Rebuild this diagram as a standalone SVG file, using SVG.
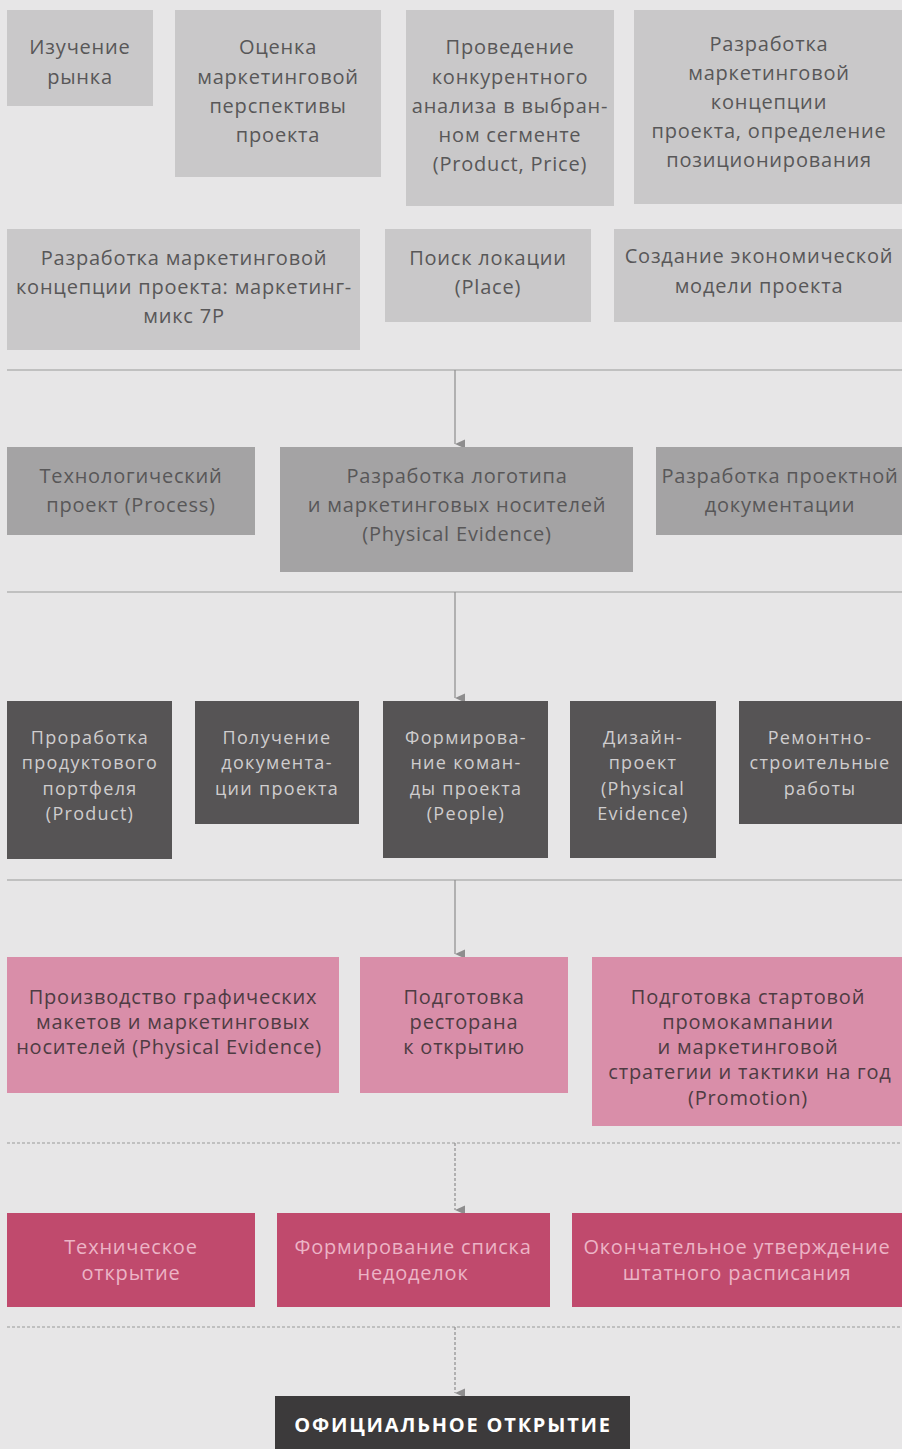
<svg xmlns="http://www.w3.org/2000/svg" width="902" height="1449" viewBox="0 0 902 1449">
<defs>
<style>
text{font-family:"Open Sans","DejaVu Sans",sans-serif;font-size:20px;text-anchor:middle;letter-spacing:0.8px}
.l1{fill:#c9c8c9}.l2{fill:#a4a3a4}.l3{fill:#565455}.l4{fill:#d98ea9}.l5{fill:#c04a6d}.l6{fill:#3c3a3b}
.t1{fill:#585758}.t3{fill:#cfcdce;font-size:18px;letter-spacing:1.3px}.t4{fill:#4e3c43}.t5{fill:#ecb4c6}.t6{fill:#ffffff;font-weight:bold;letter-spacing:1.8px}
.sep{stroke:#9a999a;stroke-width:1.2;fill:none}
.dash{stroke:#9a999a;stroke-width:1.2;fill:none;stroke-dasharray:3 2}
.arr{stroke:#8e8d8e;stroke-width:1.2;fill:none;marker-end:url(#ah)}
.arrd{stroke:#8e8d8e;stroke-width:1.2;fill:none;stroke-dasharray:3 2;marker-end:url(#ah)}
</style>
<marker id="ah" markerWidth="12" markerHeight="12" refX="5" refY="10" orient="auto" markerUnits="userSpaceOnUse">
<path d="M0.5,0 L5,10 L9.5,0 Z" fill="#8e8d8e"/>
</marker>
</defs>
<rect width="902" height="1449" fill="#e7e6e7"/>
<g id="connectors">
<line class="sep" x1="7" y1="370" x2="902" y2="370"/>
<line class="arr" x1="455" y1="370" x2="455" y2="444"/>
<line class="sep" x1="7" y1="592" x2="902" y2="592"/>
<line class="arr" x1="455" y1="592" x2="455" y2="698"/>
<line class="sep" x1="7" y1="880" x2="902" y2="880"/>
<line class="arr" x1="455" y1="880" x2="455" y2="954"/>
<line class="dash" x1="7" y1="1143" x2="902" y2="1143"/>
<line class="arrd" x1="455" y1="1143" x2="455" y2="1210"/>
<line class="dash" x1="7" y1="1327" x2="902" y2="1327"/>
<line class="arrd" x1="455" y1="1327" x2="455" y2="1393"/>
</g>
<g id="n1"><rect class="l1" x="7" y="10" width="146" height="96"/>
<text class="t1" x="80" y="54">Изучение</text><text class="t1" x="80" y="84">рынка</text></g>
<g id="n2"><rect class="l1" x="175" y="10" width="206" height="167"/>
<text class="t1" x="278" y="54">Оценка</text><text class="t1" x="278" y="84">маркетинговой</text><text class="t1" x="278" y="113">перспективы</text><text class="t1" x="278" y="142">проекта</text></g>
<g id="n3"><rect class="l1" x="406" y="10" width="208" height="196"/>
<text class="t1" x="510" y="54">Проведение</text><text class="t1" x="510" y="84">конкурентного</text><text class="t1" x="510" y="113">анализа в выбран-</text><text class="t1" x="510" y="142">ном сегменте</text><text class="t1" x="510" y="171">(Product, Price)</text></g>
<g id="n4"><rect class="l1" x="634" y="10" width="268" height="194"/>
<text class="t1" x="769" y="51">Разработка</text><text class="t1" x="769" y="80">маркетинговой</text><text class="t1" x="769" y="109">концепции</text><text class="t1" x="769" y="138">проекта, определение</text><text class="t1" x="769" y="167">позиционирования</text></g>
<g id="n5"><rect class="l1" x="7" y="229" width="353" height="121"/>
<text class="t1" x="184" y="265">Разработка маркетинговой</text><text class="t1" x="184" y="294">концепции проекта: маркетинг-</text><text class="t1" x="184" y="323">микс 7P</text></g>
<g id="n6"><rect class="l1" x="385" y="229" width="206" height="93"/>
<text class="t1" x="488" y="265">Поиск локации</text><text class="t1" x="488" y="294">(Place)</text></g>
<g id="n7"><rect class="l1" x="614" y="229" width="288" height="93"/>
<text class="t1" x="759" y="263">Создание экономической</text><text class="t1" x="759" y="293">модели проекта</text></g>
<g id="n8"><rect class="l2" x="7" y="447" width="248" height="88"/>
<text class="t1" x="131" y="483">Технологический</text><text class="t1" x="131" y="512">проект (Process)</text></g>
<g id="n9"><rect class="l2" x="280" y="447" width="353" height="125"/>
<text class="t1" x="457" y="483">Разработка логотипа</text><text class="t1" x="457" y="512">и маркетинговых носителей</text><text class="t1" x="457" y="541">(Physical Evidence)</text></g>
<g id="n10"><rect class="l2" x="656" y="447" width="246" height="88"/>
<text class="t1" x="780" y="483">Разработка проектной</text><text class="t1" x="780" y="512">документации</text></g>
<g id="n11"><rect class="l3" x="7" y="701" width="165" height="158"/>
<text class="t3" x="90" y="744">Проработка</text><text class="t3" x="90" y="769">продуктового</text><text class="t3" x="90" y="795">портфеля</text><text class="t3" x="90" y="820">(Product)</text></g>
<g id="n12"><rect class="l3" x="195" y="701" width="164" height="123"/>
<text class="t3" x="277" y="744">Получение</text><text class="t3" x="277" y="769">документа-</text><text class="t3" x="277" y="795">ции проекта</text></g>
<g id="n13"><rect class="l3" x="383" y="701" width="165" height="157"/>
<text class="t3" x="466" y="744">Формирова-</text><text class="t3" x="466" y="769">ние коман-</text><text class="t3" x="466" y="795">ды проекта</text><text class="t3" x="466" y="820">(People)</text></g>
<g id="n14"><rect class="l3" x="570" y="701" width="146" height="157"/>
<text class="t3" x="643" y="744">Дизайн-</text><text class="t3" x="643" y="769">проект</text><text class="t3" x="643" y="795">(Physical</text><text class="t3" x="643" y="820">Evidence)</text></g>
<g id="n15"><rect class="l3" x="739" y="701" width="163" height="123"/>
<text class="t3" x="820" y="744">Ремонтно-</text><text class="t3" x="820" y="769">строительные</text><text class="t3" x="820" y="795">работы</text></g>
<g id="n16"><rect class="l4" x="7" y="957" width="332" height="136"/>
<text class="t4" x="173" y="1004">Производство графических</text><text class="t4" x="173" y="1029">макетов и маркетинговых</text><text class="t4" x="169" y="1054">носителей (Physical Evidence)</text></g>
<g id="n17"><rect class="l4" x="360" y="957" width="208" height="136"/>
<text class="t4" x="464" y="1004">Подготовка</text><text class="t4" x="464" y="1029">ресторана</text><text class="t4" x="464" y="1054">к открытию</text></g>
<g id="n18"><rect class="l4" x="592" y="957" width="310" height="169"/>
<text class="t4" x="748" y="1004">Подготовка стартовой</text><text class="t4" x="748" y="1029">промокампании</text><text class="t4" x="748" y="1054">и маркетинговой</text><text class="t4" x="750" y="1079">стратегии и тактики на год</text><text class="t4" x="748" y="1105">(Promotion)</text></g>
<g id="n19"><rect class="l5" x="7" y="1213" width="248" height="94"/>
<text class="t5" x="131" y="1254">Техническое</text><text class="t5" x="131" y="1280">открытие</text></g>
<g id="n20"><rect class="l5" x="277" y="1213" width="273" height="94"/>
<text class="t5" x="413" y="1254">Формирование списка</text><text class="t5" x="413" y="1280">недоделок</text></g>
<g id="n21"><rect class="l5" x="572" y="1213" width="330" height="94"/>
<text class="t5" x="737" y="1254">Окончательное утверждение</text><text class="t5" x="737" y="1280">штатного расписания</text></g>
<g id="n22"><rect class="l6" x="275" y="1396" width="355" height="53"/>
<text class="t6" x="453" y="1432">ОФИЦИАЛЬНОЕ ОТКРЫТИЕ</text></g>
</svg>
